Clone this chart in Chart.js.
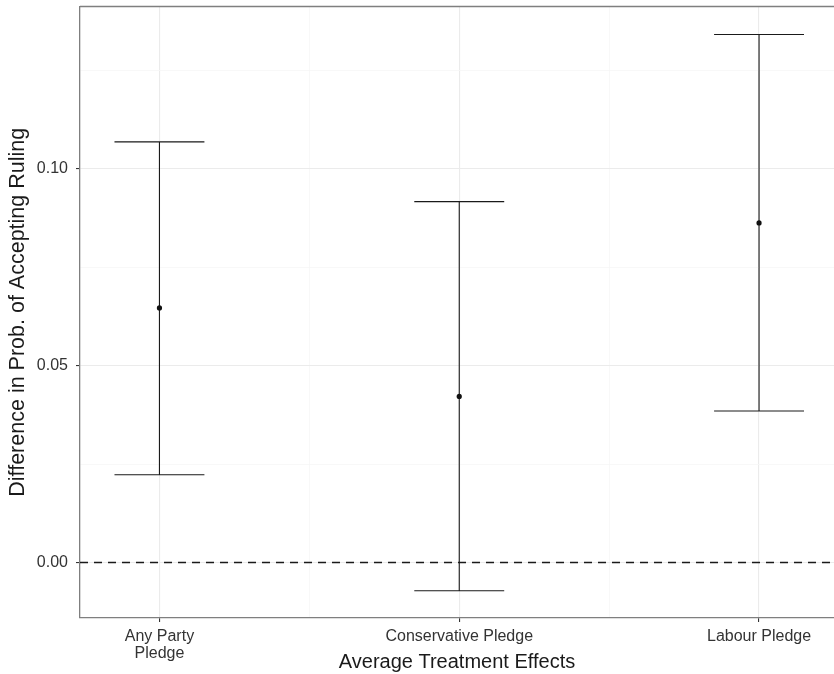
<!DOCTYPE html>
<html>
<head>
<meta charset="utf-8">
<script src="https://cdn.jsdelivr.net/npm/chart.js@4"></script>
<style>
  html, body { margin: 0; padding: 0; background: #fff; }
  #wrap { width: 834px; height: 674px; }
</style>
</head>
<body>
<div id="wrap"><canvas id="ateChart" width="834" height="674"></canvas></div>
<script>
// data
const kategori = [['Any Party', 'Pledge'], 'Conservative Pledge', 'Labour Pledge'];
const estimasi = [0.0647, 0.0422, 0.0863];
const batasBawah = [0.0223, -0.0072, 0.0385];
const batasAtas = [0.1069, 0.0917, 0.1342];
const yTicks = [0, 0.05, 0.10];
const yMinor = [0.025, 0.075, 0.125];
const xMinor = [1.5, 2.5];

const FONT = '"Liberation Sans", Arial, Helvetica, sans-serif';
const capHalf = 0.15;

const titikData = estimasi.map((v, i) => ({ x: i + 1, y: v }));

// panel border (top) + zero line + error bars
const errorBarPlugin = {
    id: 'errorBars',
    beforeDatasetsDraw(chart) {
        const { ctx, chartArea: a, scales: { x, y } } = chart;
        ctx.save();
        // garis nol putus-putus
        const y0 = y.getPixelForValue(0);
        ctx.strokeStyle = '#1a1a1a';
        ctx.lineWidth = 1.5;
        ctx.setLineDash([8, 6]);
        ctx.beginPath();
        ctx.moveTo(a.left, y0);
        ctx.lineTo(a.right, y0);
        ctx.stroke();
        ctx.setLineDash([]);

        ctx.strokeStyle = '#1a1a1a';
        ctx.lineWidth = 1.1;
        estimasi.forEach((_, i) => {
            const cx = x.getPixelForValue(i + 1);
            const yl = y.getPixelForValue(batasBawah[i]);
            const yu = y.getPixelForValue(batasAtas[i]);
            const xl = x.getPixelForValue(i + 1 - capHalf);
            const xr = x.getPixelForValue(i + 1 + capHalf);
            ctx.beginPath();
            ctx.moveTo(cx, yl); ctx.lineTo(cx, yu);
            ctx.moveTo(xl, yu); ctx.lineTo(xr, yu);
            ctx.moveTo(xl, yl); ctx.lineTo(xr, yl);
            ctx.stroke();
        });
        ctx.restore();
    },
    afterDraw(chart) {
        const { ctx, chartArea: a } = chart;
        ctx.save();
        ctx.strokeStyle = '#7f7f7f';
        ctx.lineWidth = 1.3;
        ctx.beginPath();
        ctx.moveTo(a.left, a.top);
        ctx.lineTo(a.right, a.top);
        ctx.stroke();
        ctx.restore();
    }
};

const isMinorY = (v) => yMinor.some(m => Math.abs(m - v) < 1e-9);
const isMinorX = (v) => xMinor.some(m => Math.abs(m - v) < 1e-9);

new Chart(document.getElementById('ateChart').getContext('2d'), {
    type: 'scatter',
    data: {
        datasets: [{
            data: titikData,
            backgroundColor: '#111',
            borderColor: '#111',
            pointRadius: 2.6,
            borderWidth: 0
        }]
    },
    options: {
        responsive: false,
        animation: false,
        layout: { autoPadding: false, padding: { top: 6.5, right: 0, bottom: 0, left: 0 } },
        plugins: { legend: { display: false }, tooltip: { enabled: false } },
        scales: {
            x: {
                type: 'linear',
                min: 0.735,
                max: 3.25,
                afterBuildTicks: (axis) => {
                    const vals = [1, 1.5, 2, 2.5, 3];
                    axis.ticks = vals.map(v => ({ value: v }));
                },
                afterFit: (axis) => {
                    axis.height = 56;
                    axis.paddingLeft = 0; axis.paddingRight = 0;
                },
                ticks: {
                    autoSkip: false,
                    maxRotation: 0,
                    padding: 6,
                    color: '#333',
                    font: { family: FONT, size: 16, lineHeight: 1.05 },
                    callback: (v) => {
                        if (isMinorX(v)) return '';
                        return kategori[Math.round(v) - 1];
                    }
                },
                grid: {
                    color: (c) => isMinorX(c.tick.value) ? '#f6f6f6' : '#ebebeb',
                    lineWidth: (c) => isMinorX(c.tick.value) ? 0.8 : 1.1,
                    tickLength: 4,
                    tickColor: (c) => isMinorX(c.tick.value) ? 'rgba(0,0,0,0)' : '#333',
                    tickWidth: 1.1
                },
                border: { display: true, color: '#7f7f7f', width: 1.3 },
                title: {
                    display: true,
                    text: 'Average Treatment Effects',
                    color: '#1a1a1a',
                    font: { family: FONT, size: 20 },
                    padding: { top: 2, bottom: 0 }
                }
            },
            y: {
                min: -0.01412,
                max: 0.1413,
                afterBuildTicks: (axis) => {
                    const vals = [...yTicks, ...yMinor].sort((a, b) => a - b);
                    axis.ticks = vals.map(v => ({ value: v }));
                },
                afterFit: (axis) => {
                    axis.width = 80;
                    axis.paddingTop = 0; axis.paddingBottom = 0;
                },
                ticks: {
                    padding: 8,
                    color: '#333',
                    font: { family: FONT, size: 16 },
                    callback: (v) => isMinorY(v) ? '' : v.toFixed(2)
                },
                grid: {
                    color: (c) => isMinorY(c.tick.value) ? '#f6f6f6' : '#ebebeb',
                    lineWidth: (c) => isMinorY(c.tick.value) ? 0.8 : 1.1,
                    tickLength: 4,
                    tickColor: (c) => isMinorY(c.tick.value) ? 'rgba(0,0,0,0)' : '#333',
                    tickWidth: 1.1
                },
                border: { display: true, color: '#7f7f7f', width: 1.3 },
                title: {
                    display: true,
                    text: 'Difference in Prob. of Accepting Ruling',
                    color: '#1a1a1a',
                    font: { family: FONT, size: 21.5 },
                    padding: { top: 5, bottom: 0 }
                }
            }
        }
    },
    plugins: [errorBarPlugin]
});
</script>
</body>
</html>
